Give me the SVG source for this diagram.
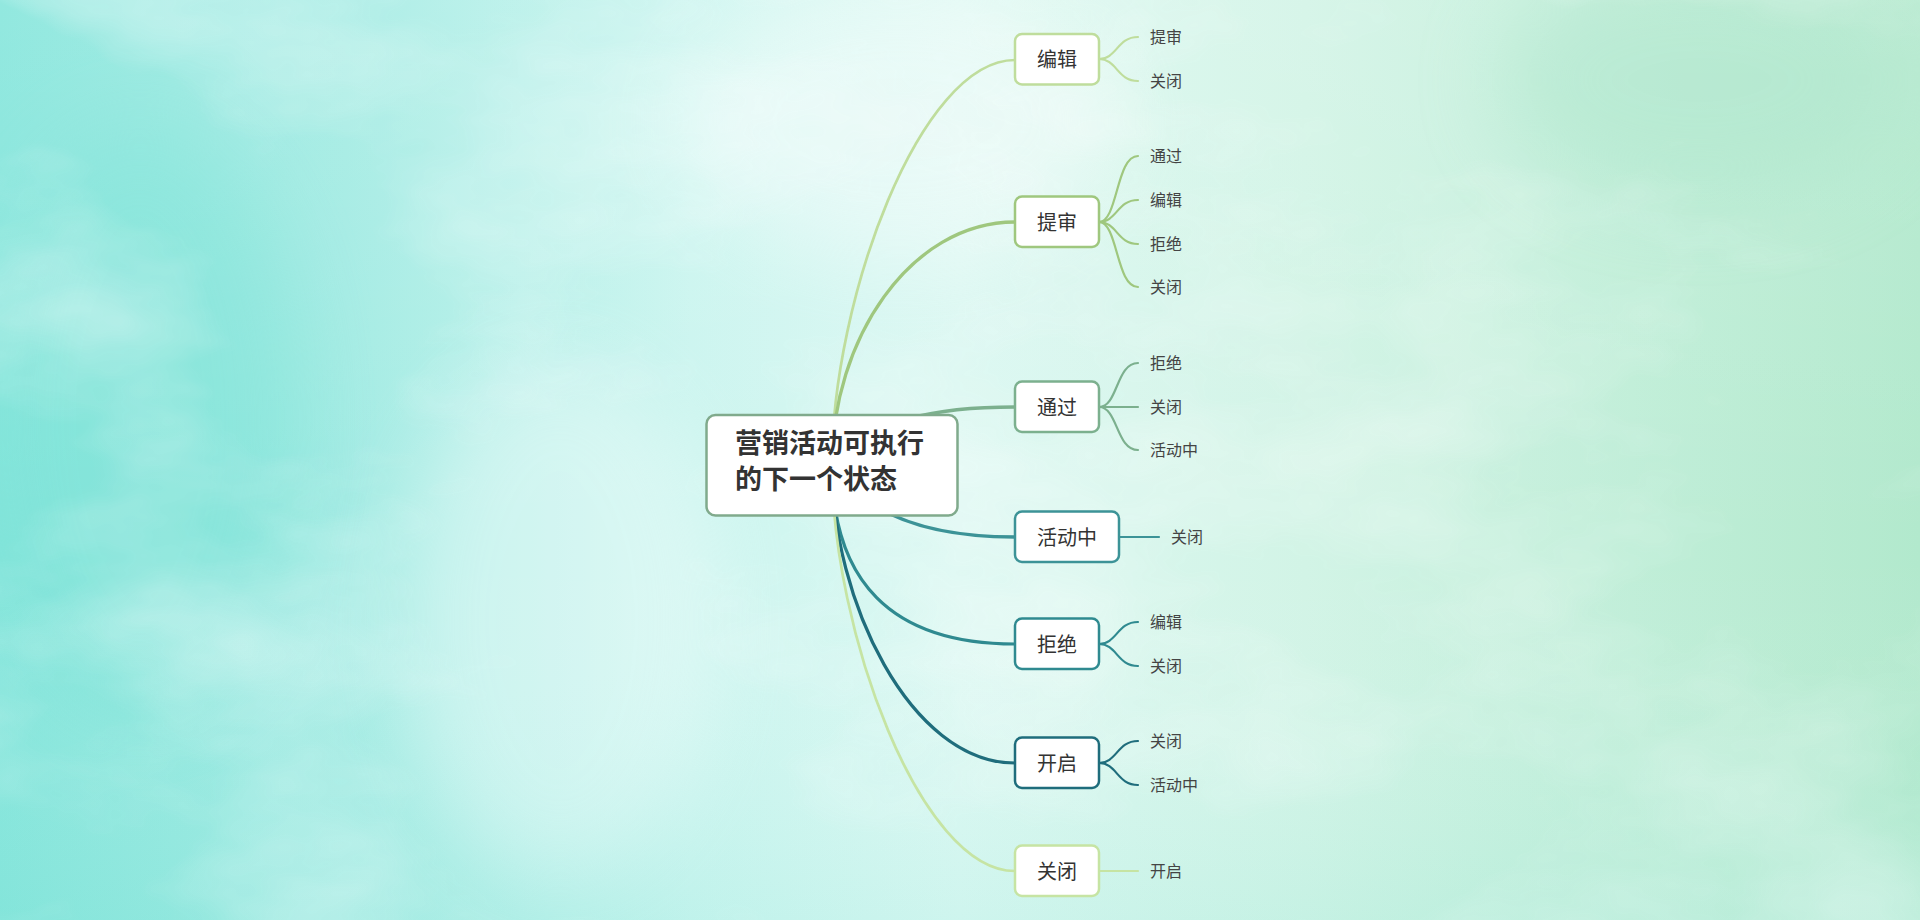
<svg xmlns="http://www.w3.org/2000/svg" width="1920" height="920" viewBox="0 0 1920 920">
  <defs>
    <linearGradient id="bg" x1="0" y1="0" x2="1" y2="0">
      <stop offset="0" stop-color="#84e5db"/>
      <stop offset="0.18" stop-color="#a2ebe3"/>
      <stop offset="0.36" stop-color="#cbf5ef"/>
      <stop offset="0.5" stop-color="#dcf8f2"/>
      <stop offset="0.68" stop-color="#d2f4e6"/>
      <stop offset="0.85" stop-color="#c0eed8"/>
      <stop offset="1" stop-color="#b2e9cd"/>
    </linearGradient>
    <linearGradient id="vshade" x1="0" y1="0" x2="0" y2="1">
      <stop offset="0" stop-color="#ffffff" stop-opacity="0.12"/>
      <stop offset="0.6" stop-color="#ffffff" stop-opacity="0"/>
      <stop offset="1" stop-color="#7fe3d6" stop-opacity="0.15"/>
    </linearGradient>
    <filter id="clouds" x="0" y="0" width="100%" height="100%">
      <feTurbulence type="fractalNoise" baseFrequency="0.0025 0.005" numOctaves="5" seed="7"/>
      <feColorMatrix type="matrix" values="0 0 0 0 1  0 0 0 0 1  0 0 0 0 1  0 0 0 2.2 -1.0"/>
    </filter>
    <filter id="blur40" x="-50%" y="-50%" width="200%" height="200%">
      <feGaussianBlur stdDeviation="40"/>
    </filter>
    <style>
      .node rect { fill: #ffffff; stroke-width: 2.5; }
      .root rect { fill: #ffffff; stroke: #80aa8c; stroke-width: 2.5; }
      .ntext { font-family: "Noto Sans CJK SC", "Noto Sans", sans-serif; font-size: 20px; fill: #333333; text-anchor: middle; }
      .ctext { font-family: "Noto Sans CJK SC", "Noto Sans", sans-serif; font-size: 16px; fill: #444444; }
      .rtext { font-family: "Liberation Sans", "Noto Sans CJK SC", sans-serif; font-size: 27px; font-weight: bold; fill: #333333; }
      .main { fill: none; stroke-linecap: round; }
      .sub { fill: none; stroke-width: 2.2; stroke-linecap: round; }
      .c1 { stroke: #bfdd9c; }
      .c2 { stroke: #9fc77e; }
      .c3 { stroke: #7cb08e; }
      .c4 { stroke: #3c9397; }
      .c5 { stroke: #2f8a90; }
      .c6 { stroke: #1f6d7c; }
      .c7 { stroke: #c6e4a3; }
    </style>
  </defs>

  <g id="background">
    <rect x="0" y="0" width="1920" height="920" fill="url(#bg)"/>
    <ellipse cx="140" cy="420" rx="160" ry="300" fill="#78e2d6" opacity="0.45" filter="url(#blur40)"/>
    <ellipse cx="560" cy="620" rx="160" ry="260" fill="#ffffff" opacity="0.35" filter="url(#blur40)"/>
    <ellipse cx="900" cy="120" rx="220" ry="140" fill="#ffffff" opacity="0.35" filter="url(#blur40)"/>
    <ellipse cx="1700" cy="80" rx="200" ry="120" fill="#a4e3c6" opacity="0.5" filter="url(#blur40)"/>
    <rect x="0" y="0" width="1920" height="920" fill="#ffffff" opacity="0.45" filter="url(#clouds)"/>
    <rect x="0" y="0" width="1920" height="920" fill="url(#vshade)"/>
  </g>

  <g id="connectors">
    <path class="main c1" stroke-width="2.7" d="M 832 465 C 832 300, 920 60, 1015 60"/>
    <path class="main c2" stroke-width="3.3" d="M 832 465 C 832 340, 910 222, 1015 222"/>
    <path class="main c3" stroke-width="3.5" d="M 832 465 C 870 418, 940 407, 1015 407"/>
    <path class="main c4" stroke-width="3.3" d="M 832 465 C 865 515, 930 537, 1015 537"/>
    <path class="main c5" stroke-width="3.2" d="M 832 465 C 832 580, 890 644, 1015 644"/>
    <path class="main c6" stroke-width="3.2" d="M 832 465 C 832 600, 910 763, 1015 763"/>
    <path class="main c7" stroke-width="2.7" d="M 832 465 C 832 630, 920 871, 1015 871"/>

    <path class="sub c1" d="M 1099 59 C 1117 59, 1117 37, 1138 37"/>
    <path class="sub c1" d="M 1099 59 C 1117 59, 1117 81, 1138 81"/>

    <path class="sub c2" d="M 1099 222 C 1118 222, 1116 156, 1138 156"/>
    <path class="sub c2" d="M 1099 222 C 1117 222, 1117 200, 1138 200"/>
    <path class="sub c2" d="M 1099 222 C 1117 222, 1117 244, 1138 244"/>
    <path class="sub c2" d="M 1099 222 C 1118 222, 1116 287, 1138 287"/>

    <path class="sub c3" d="M 1099 407 C 1118 407, 1116 363, 1138 363"/>
    <path class="sub c3" d="M 1099 407 L 1138 407"/>
    <path class="sub c3" d="M 1099 407 C 1118 407, 1116 450, 1138 450"/>

    <path class="sub c4" d="M 1119 537 L 1159 537"/>

    <path class="sub c5" d="M 1099 644 C 1117 644, 1117 622, 1138 622"/>
    <path class="sub c5" d="M 1099 644 C 1117 644, 1117 666, 1138 666"/>

    <path class="sub c6" d="M 1099 763 C 1117 763, 1117 741, 1138 741"/>
    <path class="sub c6" d="M 1099 763 C 1117 763, 1117 785, 1138 785"/>

    <path class="sub c7" d="M 1099 871 L 1138 871"/>
  </g>

  <g id="root" class="root">
    <rect x="706.5" y="415" width="251" height="100.5" rx="9"/>
    <text class="rtext"><tspan x="735" y="453">营销活动可执行</tspan><tspan x="735" y="489">的下一个状态</tspan></text>
  </g>

  <g id="node-bianji" class="node">
    <rect class="c1" x="1015" y="34" width="84" height="50.5" rx="7"/>
    <text class="ntext" x="1057" y="67">编辑</text>
    <text class="ctext" x="1150" y="43">提审</text>
    <text class="ctext" x="1150" y="87">关闭</text>
  </g>

  <g id="node-tishen" class="node">
    <rect class="c2" x="1015" y="196.5" width="84" height="50.5" rx="7"/>
    <text class="ntext" x="1057" y="229.5">提审</text>
    <text class="ctext" x="1150" y="162">通过</text>
    <text class="ctext" x="1150" y="206">编辑</text>
    <text class="ctext" x="1150" y="250">拒绝</text>
    <text class="ctext" x="1150" y="293">关闭</text>
  </g>

  <g id="node-tongguo" class="node">
    <rect class="c3" x="1015" y="381.5" width="84" height="50.5" rx="7"/>
    <text class="ntext" x="1057" y="414.5">通过</text>
    <text class="ctext" x="1150" y="369">拒绝</text>
    <text class="ctext" x="1150" y="413">关闭</text>
    <text class="ctext" x="1150" y="456">活动中</text>
  </g>

  <g id="node-huodongzhong" class="node">
    <rect class="c4" x="1015" y="511.5" width="104" height="50.5" rx="7"/>
    <text class="ntext" x="1067" y="544.5">活动中</text>
    <text class="ctext" x="1171" y="543">关闭</text>
  </g>

  <g id="node-jujue" class="node">
    <rect class="c5" x="1015" y="618.5" width="84" height="50.5" rx="7"/>
    <text class="ntext" x="1057" y="651.5">拒绝</text>
    <text class="ctext" x="1150" y="628">编辑</text>
    <text class="ctext" x="1150" y="672">关闭</text>
  </g>

  <g id="node-kaiqi" class="node">
    <rect class="c6" x="1015" y="737.5" width="84" height="50.5" rx="7"/>
    <text class="ntext" x="1057" y="770.5">开启</text>
    <text class="ctext" x="1150" y="747">关闭</text>
    <text class="ctext" x="1150" y="791">活动中</text>
  </g>

  <g id="node-guanbi" class="node">
    <rect class="c7" x="1015" y="845.5" width="84" height="50.5" rx="7"/>
    <text class="ntext" x="1057" y="878.5">关闭</text>
    <text class="ctext" x="1150" y="877">开启</text>
  </g>
</svg>
